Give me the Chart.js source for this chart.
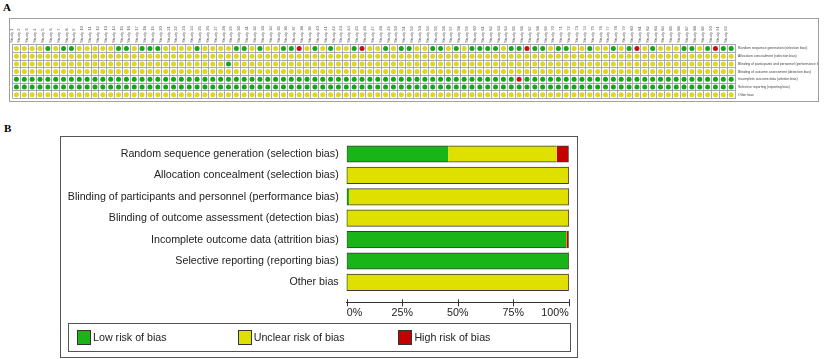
<!DOCTYPE html>
<html><head><meta charset="utf-8">
<script src="https://cdn.jsdelivr.net/npm/chart.js@4.4.0/dist/chart.umd.min.js"></script>
<style>
html,body{margin:0;padding:0;background:#fff;}
body{width:824px;height:359px;overflow:hidden;position:relative;font-family:"Liberation Sans",Arial,sans-serif;}
.plabel{position:absolute;font-family:"Liberation Serif","Times New Roman",serif;font-weight:bold;font-size:11px;line-height:11px;color:#000;}
#boxA{position:absolute;left:9px;top:18px;width:808px;height:82px;border:1px solid #a0a0a0;}
#boxB{position:absolute;left:60px;top:136px;width:516px;height:220px;border:1px solid #555;}
canvas{position:absolute;left:0;top:0;}
#legB{position:absolute;left:7px;top:186px;width:501px;height:27px;border:1px solid #555;}
.li{position:absolute;top:6px;height:15px;font-size:10.7px;line-height:15px;color:#222;white-space:nowrap;}
.sw{position:absolute;left:0;top:0;width:12px;height:13px;border:1px solid #333;}
.tx{position:absolute;left:16px;top:0;}
</style></head>
<body>
<div class="plabel" style="left:3px;top:2px;">A</div>
<div id="boxA"><canvas id="cA" width="808" height="82"></canvas></div>
<div class="plabel" style="left:4px;top:123px;">B</div>
<div id="boxB"><canvas id="cB" width="516" height="220"></canvas><div id="legB"></div></div>
<script>
// ---------- DATA ----------
const domains = [
  'Random sequence generation (selection bias)',
  'Allocation concealment (selection bias)',
  'Blinding of participants and personnel (performance bias)',
  'Blinding of outcome assessment (detection bias)',
  'Incomplete outcome data (attrition bias)',
  'Selective reporting (reporting bias)',
  'Other bias'
];
const studies = ['Study 1','Study 2','Study 3','Study 4','Study 5','Study 6','Study 7','Study 8','Study 9','Study 10',
'Study 11','Study 12','Study 13','Study 14','Study 15','Study 16','Study 17','Study 18','Study 19','Study 20',
'Study 21','Study 22','Study 23','Study 24','Study 25','Study 26','Study 27','Study 28','Study 29','Study 30',
'Study 31','Study 32','Study 33','Study 34','Study 35','Study 36','Study 37','Study 38','Study 39','Study 40',
'Study 41','Study 42','Study 43','Study 44','Study 45','Study 46','Study 47','Study 48','Study 49','Study 50',
'Study 51','Study 52','Study 53','Study 54','Study 55','Study 56','Study 57','Study 58','Study 59','Study 60',
'Study 61','Study 62','Study 63','Study 64','Study 65','Study 66','Study 67','Study 68','Study 69','Study 70',
'Study 71','Study 72','Study 73','Study 74','Study 75','Study 76','Study 77','Study 78','Study 79','Study 80',
'Study 81','Study 82','Study 83','Study 84','Study 85','Study 86','Study 87','Study 88','Study 89','Study 90',
'Study 91','Study 92'];
// per-study judgements: '+' low, '?' unclear, '-' high (groups of 10 studies)
const randomSeq   = "????+?++?? ???++?+++? ???+????++ ?+??++-?+? +??+-??+?+ +??++?+?++ ++?++-++?+ +??+??+?+- ?+???++?+- ++";
const allocation  = "?????????? ?????????? ?????????? ?????????? ?????????? ?????????? ?????????? ?????????? ?????????? ??";
const blindPart   = "?????????? ?????????? ???????+?? ?????????? ?????????? ?????????? ?????????? ?????????? ?????????? ??";
const blindOut    = "?????????? ?????????? ?????????? ?????????? ?????????? ?????????? ?????????? ?????????? ?????????? ??";
const incomplete  = "++++++++++ ++++++++++ ++++++++++ ++++++++++ ++++++++++ ++++++++++ ++++-+++++ ++++++++++ ++++++++++ ++";
const selective   = "++++++++++ ++++++++++ ++++++++++ ++++++++++ ++++++++++ ++++++++++ ++++++++++ ++++++++++ ++++++++++ ++";
const otherBias   = "?????????? ?????????? ?????????? ?????????? ?????????? ?????????? ?????????? ?????????? ?????????? ??";
// summary percentages (panel B)
const lowPct     = [45.7, 0, 1.1, 0, 98.9, 100, 0];
const unclearPct = [48.9, 100, 98.9, 100, 0, 0, 100];
const highPct    = [5.4, 0, 0, 0, 1.1, 0, 0];
const xTicks = [0, 25, 50, 75, 100];
const riskLabels = ['Low risk of bias', 'Unclear risk of bias', 'High risk of bias'];

// ---------- STYLE ----------
Chart.defaults.font.family = '"Liberation Sans", Arial, sans-serif';
const colA = {'+': '#14a614', '?': '#dcd820', '-': '#c41010'};
const colB = ['#18b418', '#e0e000', '#c40000'];
function fixSize(prop, val) {
  return s => { s[prop] = val; s.paddingTop = 0; s.paddingBottom = 0; s.paddingLeft = 0; s.paddingRight = 0; };
}

// ---------- PANEL A ----------
const rowsA = [randomSeq, allocation, blindPart, blindOut, incomplete, selective, otherBias].map(s => s.replace(/ /g, '').split(''));
const symbols = ['+', '?', '-'];
const dsA = symbols.map((sym, k) => {
  const pts = [];
  rowsA.forEach((row, r) => row.forEach((v, c) => { if (v === sym) pts.push({x: studies[c], y: domains[r]}); }));
  return {label: riskLabels[k], data: pts, backgroundColor: colA[sym], borderWidth: 0, pointRadius: 2.5, pointHoverRadius: 2.5};
});
new Chart(document.getElementById('cA'), {
  type: 'scatter',
  data: {datasets: dsA},
  options: {
    responsive: false, animation: false, devicePixelRatio: 1,
    layout: {padding: {left: 1, right: 0, top: 0, bottom: 0.7}},
    plugins: {legend: {display: false}, tooltip: {enabled: false}},
    scales: {
      x: {type: 'category', labels: studies, position: 'top', offset: true,
          grid: {offset: true, color: '#a9a9b9', lineWidth: 1, drawTicks: false},
          border: {display: true, color: '#a9a9b9'},
          ticks: {autoSkip: false, minRotation: 90, maxRotation: 90, padding: 2, font: {size: 4.2}, color: '#555'},
          afterFit: fixSize('height', 25.7)},
      y: {type: 'category', labels: domains, position: 'right', offset: true,
          grid: {offset: true, color: '#a9a9b9', lineWidth: 1, drawTicks: false},
          border: {display: true, color: '#a9a9b9'},
          ticks: {autoSkip: false, padding: 3, font: {size: 3.4}, color: '#444'},
          afterFit: fixSize('width', 82.9)}
    }
  }
});

// ---------- PANEL B ----------
const seriesB = [lowPct, unclearPct, highPct];
function edgeWidth(ctx) {
  const i = ctx.dataIndex, d = ctx.datasetIndex;
  if (!(seriesB[d][i] > 0)) return 0;
  const nz = seriesB.map((s, k) => (s[i] > 0 ? k : -1)).filter(k => k >= 0);
  return {top: 1, bottom: 1, left: d === nz[0] ? 1 : 0, right: d === nz[nz.length - 1] ? 1 : 0};
}
const crossTicks = {
  id: 'crossTicks',
  afterDraw(chart) {
    const s = chart.scales.x, c = chart.ctx;
    c.save(); c.strokeStyle = '#333'; c.lineWidth = 1;
    s.ticks.forEach(t => {
      const px = Math.round(s.getPixelForValue(t.value)) + 0.5;
      c.beginPath(); c.moveTo(px, s.top - 3); c.lineTo(px, s.top + 4); c.stroke();
    });
    c.restore();
  }
};
const chartB = new Chart(document.getElementById('cB'), {
  type: 'bar',
  data: {datasets: seriesB.map((s, k) => ({
    label: riskLabels[k],
    data: s.map((v, i) => ({x: v, y: i})),
    backgroundColor: colB[k], borderColor: '#3c3c3c', borderWidth: edgeWidth, borderSkipped: false,
    barThickness: 16.5
  }))},
  options: {
    indexAxis: 'y', responsive: false, animation: false, devicePixelRatio: 1,
    layout: {padding: {left: 0, right: 8.3, top: 6.3, bottom: 0}},
    plugins: {legend: {display: false}, tooltip: {enabled: false}},
    scales: {
      x: {type: 'linear', min: 0, max: 100, stacked: true, position: 'bottom',
          afterBuildTicks: s => { s.ticks = xTicks.map(v => ({value: v})); },
          ticks: {callback: v => v + '%', align: 'inner', padding: 4, font: {size: 10.7}, color: '#222', maxRotation: 0, autoSkip: false},
          grid: {display: false, drawTicks: false},
          border: {display: true, color: '#333', width: 1},
          afterFit: fixSize('height', 54.7)},
      y: {type: 'linear', reverse: true, min: -0.5, max: 6.93, stacked: true, offset: false,
          afterBuildTicks: s => { s.ticks = domains.map((d, i) => ({value: i})); },
          ticks: {callback: v => domains[v], padding: 8, font: {size: 10.7}, color: '#222', autoSkip: false},
          grid: {display: false, drawTicks: false},
          border: {display: false},
          afterFit: fixSize('width', 285.7)}
    }
  },
  plugins: [crossTicks]
});

// legend for panel B, built from the chart's datasets
const legLefts = [8, 168.7, 329.4];
const leg = document.getElementById('legB');
chartB.data.datasets.forEach((ds, k) => {
  const it = document.createElement('div'); it.className = 'li'; it.style.left = legLefts[k] + 'px';
  const sw = document.createElement('div'); sw.className = 'sw'; sw.style.background = ds.backgroundColor;
  const tx = document.createElement('span'); tx.className = 'tx'; tx.textContent = ds.label;
  it.appendChild(sw); it.appendChild(tx); leg.appendChild(it);
});
</script>
</body></html>
